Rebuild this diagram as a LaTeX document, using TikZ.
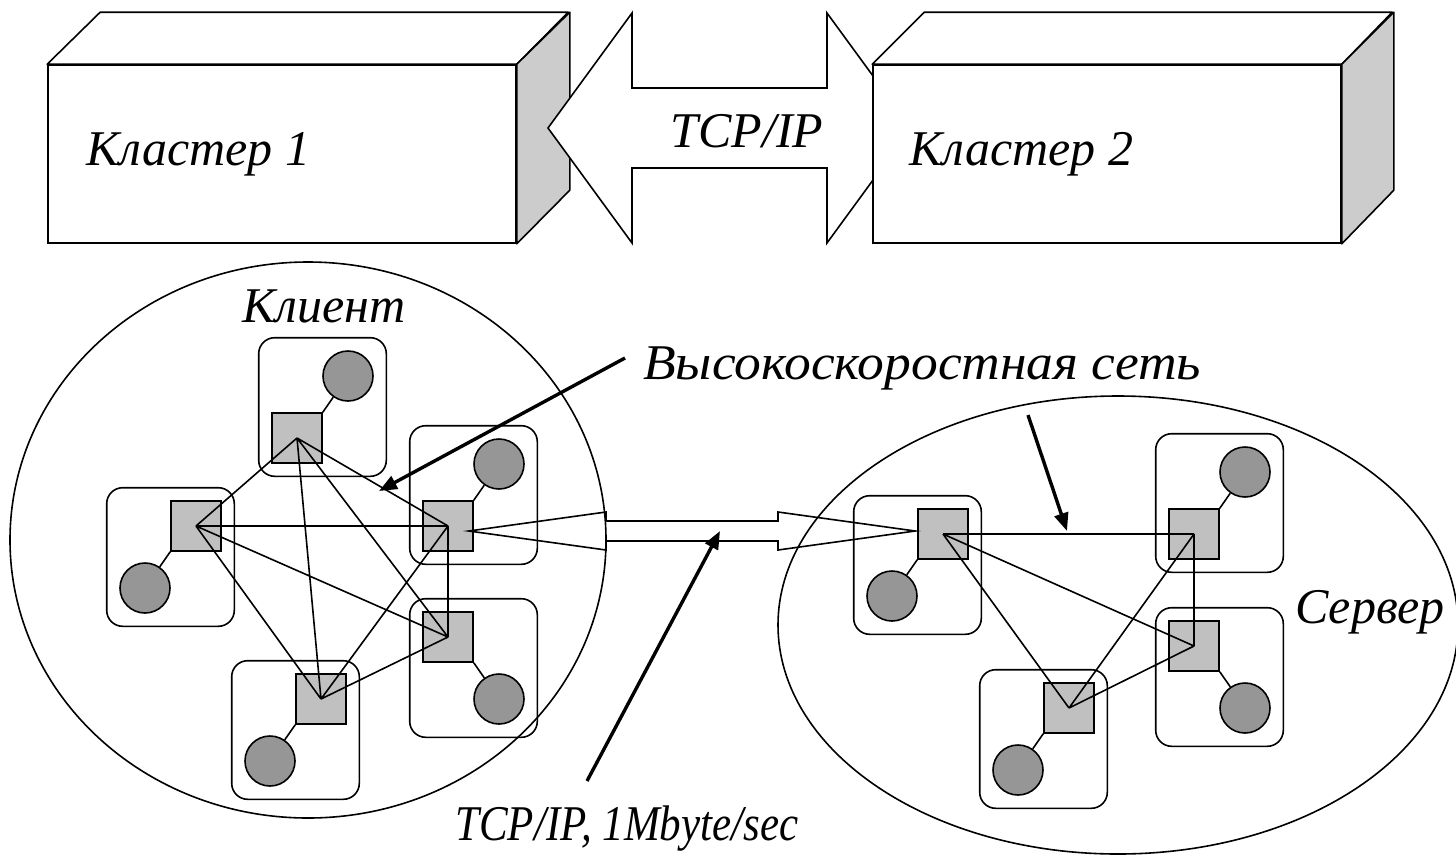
\documentclass[tikz,border=0pt]{standalone}
\usepackage{fontspec}
\setmainfont{Liberation Serif}
\usetikzlibrary{
  arrows.meta,
  shapes.geometric,
  positioning,
  fit,
  calc,
  backgrounds
}
\definecolor{hubGray}{HTML}{C0C0C0}
\definecolor{hostGray}{HTML}{969696}
\definecolor{sideGray}{HTML}{CCCCCC}
\tikzset{
  clbox/.style={draw, fill=white, line width=1.6pt, minimum width=468pt, minimum height=178pt, inner sep=0pt},
  face/.style={draw, line width=1.6pt, line join=round},
  lbl/.style={font=\fontsize{50}{60}\selectfont\itshape, inner sep=0pt},
  hub/.style={draw, fill=hubGray, line width=1.6pt, minimum size=50pt, inner sep=0pt},
  host/.style={draw, circle, fill=hostGray, line width=1.6pt, minimum size=50pt, inner sep=0pt},
  grp/.style={draw, rounded corners=16pt, line width=1.6pt, inner sep=12.5pt},
  cluster/.style={draw, ellipse, line width=1.6pt, inner sep=0pt},
  wire/.style={line width=1.6pt},
  link/.style={draw, line width=1.6pt, line join=miter},
  pointer/.style={-{Triangle[length=18pt, width=14pt]}, line width=3.4pt}
}

\begin{document}
\begin{tikzpicture}[x=1pt, y=-1pt]
  \useasboundingbox (0,0) rectangle (1456,855);

  % two clusters as boxes, TCP/IP between them
  \node[clbox] (cl1) at (282,154) {};
  \draw[face, fill=white] (cl1.north west) -- ++(53,-52) -- ++(468,0) -- (cl1.north east) -- cycle;
  \draw[face, fill=sideGray] (cl1.north east) -- ++(53,-52) -- ++(0,178) -- (cl1.south east) -- cycle;
  \node[lbl, right=39pt of cl1.west] (cl1txt) {Кластер 1};

  \draw[link, fill=white] (548,128) -- (632,13) -- (632,88) -- (827,88) -- (827,13) -- (911,128)
    -- (827,243) -- (827,168) -- (632,168) -- (632,243) -- cycle;
  \node[lbl, anchor=base] (tcp) at (747,147) {TCP/IP};

  \node[clbox] (cl2) at (1107,154) {};
  \draw[face, fill=white] (cl2.north west) -- ++(52,-52) -- ++(468,0) -- (cl2.north east) -- cycle;
  \draw[face, fill=sideGray] (cl2.north east) -- ++(52,-52) -- ++(0,178) -- (cl2.south east) -- cycle;
  \node[lbl, right=37pt of cl2.west] (cl2txt) {Кластер 2};

  % client and server
  \node[cluster, minimum width=596pt, minimum height=556pt] (client) at (308,540) {};
  \node[cluster, minimum width=680pt, minimum height=458pt] (server) at (1118,625) {};

  % client machines
  \node[hub] (c1) at (297,438) {};
  \node[host, on grid, above right=62pt and 51pt of c1] (c1h) {};
  \node[hub] (c2) at (196,526) {};
  \node[host, on grid, below left=62pt and 51pt of c2] (c2h) {};
  \node[hub] (c3) at (448,526) {};
  \node[host, on grid, above right=62pt and 51pt of c3] (c3h) {};
  \node[hub] (c4) at (448,637) {};
  \node[host, on grid, below right=62pt and 51pt of c4] (c4h) {};
  \node[hub] (c5) at (321,699) {};
  \node[host, on grid, below left=62pt and 51pt of c5] (c5h) {};
  \draw[wire] (c1.north east) -- (c1h);
  \draw[wire] (c2.south west) -- (c2h);
  \draw[wire] (c3.north east) -- (c3h);
  \draw[wire] (c4.south east) -- (c4h);
  \draw[wire] (c5.south west) -- (c5h);
  \begin{scope}[on background layer]
    \node[grp, fit=(c1)(c1h)] (g1) {};
    \node[grp, fit=(c2)(c2h)] (g2) {};
    \node[grp, fit=(c3)(c3h)] (g3) {};
    \node[grp, fit=(c4)(c4h)] (g4) {};
    \node[grp, fit=(c5)(c5h)] (g5) {};
  \end{scope}

  % server machines
  \node[hub] (s1) at (943,534) {};
  \node[host, on grid, below left=62pt and 51pt of s1] (s1h) {};
  \node[hub] (s2) at (1194,534) {};
  \node[host, on grid, above right=62pt and 51pt of s2] (s2h) {};
  \node[hub] (s3) at (1194,646) {};
  \node[host, on grid, below right=62pt and 51pt of s3] (s3h) {};
  \node[hub] (s4) at (1069,708) {};
  \node[host, on grid, below left=62pt and 51pt of s4] (s4h) {};
  \draw[wire] (s1.south west) -- (s1h);
  \draw[wire] (s2.north east) -- (s2h);
  \draw[wire] (s3.south east) -- (s3h);
  \draw[wire] (s4.south west) -- (s4h);
  \begin{scope}[on background layer]
    \node[grp, fit=(s1)(s1h)] (h1) {};
    \node[grp, fit=(s2)(s2h)] (h2) {};
    \node[grp, fit=(s3)(s3h)] (h3) {};
    \node[grp, fit=(s4)(s4h)] (h4) {};
  \end{scope}

  % fast network, everyone to everyone
  \draw[wire] (c1.center) -- (c2.center) (c1.center) -- (c3.center) (c1.center) -- (c4.center)
    (c1.center) -- (c5.center) (c2.center) -- (c3.center) (c2.center) -- (c4.center)
    (c2.center) -- (c5.center) (c3.center) -- (c4.center) (c3.center) -- (c5.center)
    (c4.center) -- (c5.center);
  \draw[wire] (s1.center) -- (s2.center) (s1.center) -- (s3.center) (s1.center) -- (s4.center)
    (s2.center) -- (s3.center) (s2.center) -- (s4.center) (s3.center) -- (s4.center);

  % slow link client -> server
  \draw[link] ($(c3.east)+(-5,5)$) -- (606,512) -- (606,521) -- (778,521) -- (778,512)
    -- ($(s1.west)+(-2,-3)$) -- (778,550) -- (778,541) -- (606,541) -- (606,550) -- cycle;

  % labels
  \node[lbl, anchor=base west] (cltxt) at (242,322) {Клиент};
  \node[lbl, anchor=base west] (net) at (643,379) {\scalebox{1.07}[1]{Высокоскоростная сеть}};
  \node[lbl, anchor=base west] (srvtxt) at (1295,623) {Сервер};
  \node[lbl, anchor=base west] (rate) at (455,840) {\scalebox{0.86}[1]{TCP/IP, 1Mbyte/sec}};

  \coordinate (netS1) at (625,358);
  \coordinate (netT1) at (379,491);
  \coordinate (netS2) at (1028,415);
  \coordinate (netT2) at (1067,531);
  \coordinate (rateS) at (587,781);
  \coordinate (rateT) at (720,531);
  \draw[pointer] (netS1) -- (netT1);
  \draw[pointer] (netS2) -- (netT2);
  \draw[pointer] (rateS) -- (rateT);
\end{tikzpicture}
\end{document}
